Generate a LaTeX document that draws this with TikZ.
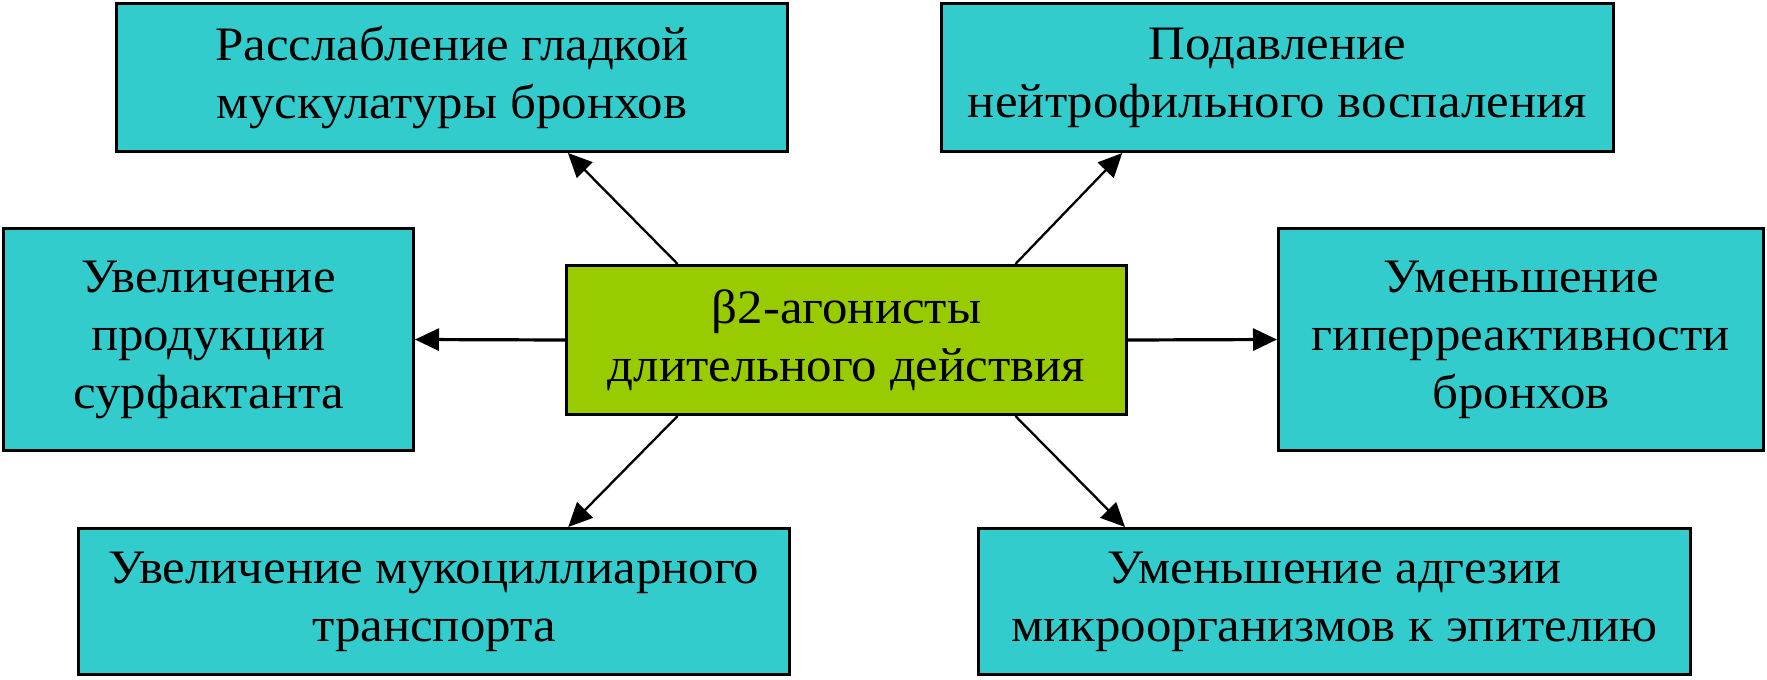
\documentclass[tikz,border=0pt]{standalone}
\usepackage{fontspec}
\setmainfont{Liberation Serif}[FakeStretch=1.06]
\usetikzlibrary{arrows.meta,calc}
\definecolor{boxcyan}{HTML}{33CCCC}
\definecolor{boxgreen}{HTML}{99CC00}
\begin{document}
\begin{tikzpicture}[x=1pt,y=-1pt,
  box/.style={draw=black,line width=3pt,fill=boxcyan,align=center,inner sep=0pt,
    font=\fontsize{48}{58}\selectfont},
  conn/.style={draw=black,line width=2.3pt,-{Triangle[length=24pt,width=22pt]}},
  hconn/.style={conn,line width=3.2pt}]
\useasboundingbox (0,0) rectangle (1767,680);
\node[box,minimum width=671pt,minimum height=148pt] (TL) at (452,77.5) {Расслабление гладкой\\мускулатуры бронхов};
\node[box,minimum width=672pt,minimum height=148pt] (TR) at (1277.5,77.5) {Подавление\\нейтрофильного воспаления};
\node[box,minimum width=410pt,minimum height=222pt] (LM) at (208.5,339.5) {Увеличение\\продукции\\сурфактанта};
\node[box,fill=boxgreen,minimum width=560pt,minimum height=149pt] (C) at (846.5,340) {β2-агонисты\\длительного действия};
\node[box,minimum width=485pt,minimum height=222pt] (RM) at (1521,339.5) {Уменьшение\\гиперреактивности\\бронхов};
\node[box,minimum width=711pt,minimum height=146pt] (BL) at (434,601.5) {Увеличение мукоциллиарного\\транспорта};
\node[box,minimum width=712pt,minimum height=146pt] (BR) at (1334.5,601.5) {Уменьшение адгезии\\микроорганизмов к эпителию};
\coordinate (cnw) at ($(C.north west)!0.2!(C.north east)$);
\coordinate (cne) at ($(C.north west)!0.8!(C.north east)$);
\coordinate (csw) at ($(C.south west)!0.2!(C.south east)$);
\coordinate (cse) at ($(C.south west)!0.8!(C.south east)$);
\coordinate (tlt) at ($(TL.south west)!0.672!(TL.south east)$);
\coordinate (trt) at ($(TR.south west)!0.27!(TR.south east)$);
\coordinate (blt) at ($(BL.north west)!0.688!(BL.north east)$);
\coordinate (brt) at ($(BR.north west)!0.207!(BR.north east)$);
\draw[conn] (cnw) -- (tlt);
\draw[conn] (cne) -- (trt);
\draw[conn] (csw) -- (blt);
\draw[conn] (cse) -- (brt);
\draw[hconn] (C.west) -- (LM.east);
\draw[hconn] (C.east) -- (RM.west);
\end{tikzpicture}
\end{document}
